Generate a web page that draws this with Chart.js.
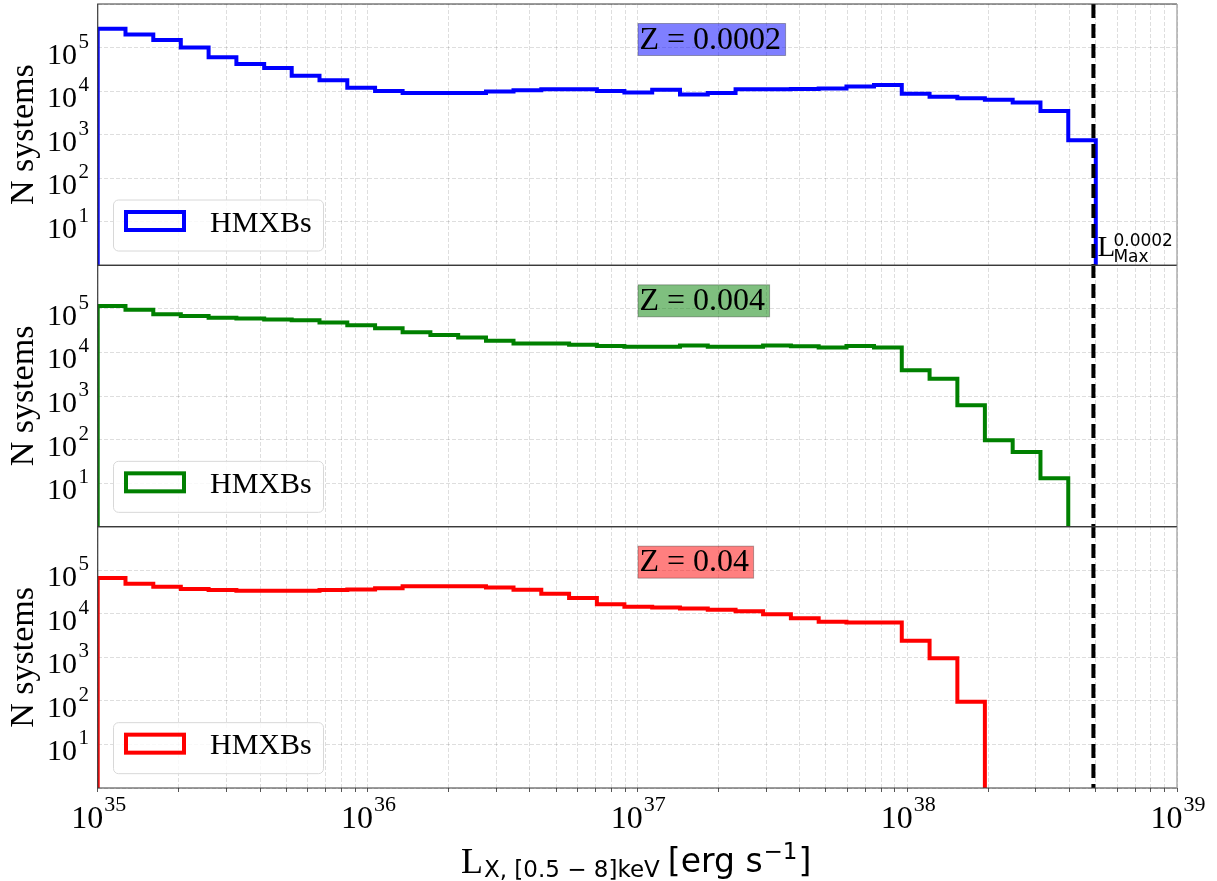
<!DOCTYPE html>
<html>
<head>
<meta charset="utf-8">
<script src="https://cdn.jsdelivr.net/npm/chart.js@4.4.1/dist/chart.umd.min.js"></script>
<style>
  html, body { margin: 0; padding: 0; background: #ffffff; }
  #wrap { width: 1217px; height: 881px; }
</style>
</head>
<body>
<div id="wrap"><canvas id="chart" width="1217" height="881"></canvas></div>
<script>
// Bin edges, log10(L_X) — 36 log-spaced bins from 1e35 to 5e38
const binEdgesLog = [
  35.000, 35.103, 35.206, 35.308, 35.411, 35.514, 35.617, 35.719, 35.822, 35.925,
  36.028, 36.130, 36.233, 36.336, 36.439, 36.541, 36.644, 36.747, 36.850, 36.952,
  37.055, 37.158, 37.261, 37.364, 37.466, 37.569, 37.672, 37.775, 37.877, 37.980,
  38.083, 38.186, 38.288, 38.391, 38.494, 38.597, 38.699,
];

// N systems per bin (0 = empty bin)
const nZ0002 = [
  2.7e5, 2.0e5, 1.5e5, 1.0e5, 6.0e4, 4.2e4, 3.4e4, 2.25e4, 1.77e4, 1.2e4,
  1.0e4, 9.1e3, 9.1e3, 9.1e3, 9.8e3, 1.05e4, 1.1e4, 1.1e4, 1.0e4, 9.3e3,
  1.07e4, 8.4e3, 9.1e3, 1.1e4, 1.1e4, 1.12e4, 1.15e4, 1.28e4, 1.38e4, 8.7e3,
  7.4e3, 6.9e3, 6.3e3, 5.5e3, 3.5e3, 740,
];
const nZ004 = [
  1.17e5, 9.5e4, 7.5e4, 6.9e4, 6.3e4, 6.0e4, 5.7e4, 5.5e4, 4.9e4, 4.2e4,
  3.6e4, 2.9e4, 2.5e4, 2.2e4, 1.85e4, 1.6e4, 1.6e4, 1.5e4, 1.4e4, 1.35e4,
  1.35e4, 1.45e4, 1.35e4, 1.35e4, 1.45e4, 1.38e4, 1.3e4, 1.4e4, 1.3e4, 3.9e3,
  2.5e3, 610, 96, 52, 13, 0,
];
const nZ04 = [
  6.6e4, 4.9e4, 4.2e4, 3.7e4, 3.5e4, 3.37e4, 3.37e4, 3.37e4, 3.5e4, 3.6e4,
  3.85e4, 4.3e4, 4.3e4, 4.3e4, 4.0e4, 3.55e4, 2.9e4, 2.3e4, 1.65e4, 1.45e4,
  1.4e4, 1.33e4, 1.24e4, 1.15e4, 9.7e3, 7.9e3, 6.6e3, 6.3e3, 6.3e3, 2.4e3,
  950, 95, 0, 0, 0, 0,
];

const panelLabels = ['Z = 0.0002', 'Z = 0.004', 'Z = 0.04'];
const legendLabel = 'HMXBs';
const xTickExponents = [35, 36, 37, 38, 39];
const yTickExponents = [1, 2, 3, 4, 5];
const lMaxValue = 4.9e38;    // L_Max for Z = 0.0002 (dashed line)
const lMaxLabel = '0.0002';

// Styles
const COLORS = ['#0000ff', '#008000', '#ff0000'];
const BOX_FILL = ['rgba(0,0,255,0.5)', 'rgba(0,128,0,0.5)', 'rgba(255,0,0,0.5)'];
const GRID = 'rgba(0,0,0,0.13)';
const SERIF = '"Liberation Serif", "Times New Roman", serif';
const SANS = '"DejaVu Sans", sans-serif';
const LOG_FLOOR = 1e-3;      // stand-in for log(0): below the axis, clipped away

// Histogram outline: up at first edge, step along bins, down at last edge
function toSteps(values) {
  const last = binEdgesLog.length - 1;
  const pts = [{ x: 10 ** binEdgesLog[0], y: LOG_FLOOR }];
  values.forEach((v, i) => pts.push({ x: 10 ** binEdgesLog[i], y: v > 0 ? v : LOG_FLOOR }));
  pts.push({ x: 10 ** binEdgesLog[last], y: LOG_FLOOR });
  return pts;
}

// Tick positions (1..9 x 10^n) for the x axis, decades only for y
const xTickValues = [];
xTickExponents.forEach((e, i) => {
  if (i === xTickExponents.length - 1) { xTickValues.push(10 ** e); return; }
  for (let m = 1; m < 10; m++) xTickValues.push(m * 10 ** e);
});
const yGridValues = [1, 10, 100, 1e3, 1e4, 1e5, 1e6];

function yScale() {
  return {
    type: 'logarithmic',
    position: 'left',
    stack: 'panels',
    stackWeight: 1,
    min: 1,
    max: 1e6,
    afterBuildTicks: (s) => { s.ticks = yGridValues.map((v) => ({ value: v })); },
    afterFit: (s) => { s.width = 97.7; },
    ticks: { display: false },
    grid: { color: GRID, lineWidth: 1, drawTicks: false },
    border: { display: false, dash: [4, 2] },
  };
}

// Draw "10" with a raised exponent
function powerLabel(ctx, x, y, exp, align, size, supSize, gap, rise) {
  ctx.fillStyle = '#000';
  ctx.textBaseline = 'alphabetic';
  ctx.textAlign = 'left';
  ctx.font = `${size}px ${SERIF}`;
  const w10 = ctx.measureText('10').width;
  ctx.font = `${supSize}px ${SERIF}`;
  const wSup = ctx.measureText(String(exp)).width;
  const left = align === 'right' ? x - wSup - gap - w10 : x - (w10 + gap + wSup) / 2;
  ctx.font = `${size}px ${SERIF}`;
  ctx.fillText('10', left, y);
  ctx.font = `${supSize}px ${SERIF}`;
  ctx.fillText(String(exp), left + w10 + gap, y - rise);
}

const decorPlugin = {
  id: 'decor',
  afterDatasetsDraw(chart) {
    const { ctx, chartArea, scales } = chart;
    const panels = [scales.yTop, scales.yMid, scales.yBot];

    // L_Max dashed line
    const xm = scales.x.getPixelForValue(lMaxValue);
    ctx.save();
    ctx.strokeStyle = '#000';
    ctx.lineWidth = 4;
    ctx.setLineDash([14, 6]);
    ctx.beginPath();
    ctx.moveTo(xm, chartArea.top);
    ctx.lineTo(xm, chartArea.bottom);
    ctx.stroke();
    ctx.restore();

    // panel frames
    ctx.save();
    ctx.lineWidth = 1.2;
    panels.forEach((s) => {
      ctx.strokeStyle = '#3a3a3a';
      ctx.beginPath();
      ctx.moveTo(chartArea.right, s.top);
      ctx.lineTo(chartArea.left, s.top);
      ctx.lineTo(chartArea.left, s.bottom);
      ctx.lineTo(chartArea.right, s.bottom);
      ctx.stroke();
      ctx.strokeStyle = '#9a9a9a';
      ctx.beginPath();
      ctx.moveTo(chartArea.right, s.top);
      ctx.lineTo(chartArea.right, s.bottom);
      ctx.stroke();
    });
    ctx.restore();

    panels.forEach((s, i) => {
      // y tick labels
      yTickExponents.forEach((e) => {
        const y = s.getPixelForValue(10 ** e);
        powerLabel(ctx, 89, y + 16, e, 'right', 30, 21, 1.5, 16);
      });

      // y axis title
      ctx.save();
      ctx.translate(33, (s.top + s.bottom) / 2);
      ctx.rotate(-Math.PI / 2);
      ctx.font = `34px ${SERIF}`;
      ctx.fillStyle = '#000';
      ctx.textAlign = 'center';
      ctx.textBaseline = 'alphabetic';
      ctx.fillText('N systems', 0, 0);
      ctx.restore();

      // legend
      ctx.save();
      const lx = 113, ly = s.top + 195.5, lw = 210, lh = 51;
      ctx.fillStyle = 'rgba(255,255,255,0.8)';
      ctx.strokeStyle = '#d8d8d8';
      ctx.lineWidth = 1;
      ctx.beginPath();
      ctx.roundRect(lx + 0.5, ly + 0.5, lw, lh, 5);
      ctx.fill();
      ctx.stroke();
      ctx.strokeStyle = COLORS[i];
      ctx.lineWidth = 4;
      ctx.lineJoin = 'miter';
      ctx.strokeRect(126, s.top + 208, 58, 18);
      ctx.fillStyle = '#000';
      ctx.font = `30px ${SERIF}`;
      ctx.textAlign = 'left';
      ctx.textBaseline = 'alphabetic';
      ctx.fillText(legendLabel, 210, s.top + 227.5);
      ctx.restore();

      // metallicity label
      ctx.save();
      ctx.font = `32px ${SERIF}`;
      const tw = ctx.measureText(panelLabels[i]).width;
      const bx = 638, by = s.top + 19.5, bh = 32;
      ctx.fillStyle = BOX_FILL[i];
      ctx.fillRect(bx, by, tw + 6, bh);
      ctx.strokeStyle = 'rgba(0,0,0,0.3)';
      ctx.lineWidth = 1;
      ctx.strokeRect(bx, by, tw + 6, bh);
      ctx.fillStyle = '#000';
      ctx.textAlign = 'left';
      ctx.textBaseline = 'alphabetic';
      ctx.fillText(panelLabels[i], bx + 1.5, s.top + 44.5);
      ctx.restore();
    });

    // L_Max annotation in top panel
    ctx.save();
    ctx.fillStyle = '#000';
    ctx.textAlign = 'left';
    ctx.textBaseline = 'alphabetic';
    ctx.font = `29px ${SERIF}`;
    ctx.fillText('L', xm + 4, scales.yTop.bottom - 9);
    ctx.font = `17px ${SANS}`;
    ctx.fillText(lMaxLabel, xm + 20, scales.yTop.bottom - 19);
    ctx.fillText('Max', xm + 20, scales.yTop.bottom - 3);
    ctx.restore();

    // x tick labels
    xTickExponents.forEach((e) => {
      const x = scales.x.getPixelForValue(10 ** e);
      powerLabel(ctx, x + 1, 828, e, 'center', 32, 22, 1, 17);
    });

    // x axis title: L_{X,[0.5-8]keV} [erg s^-1]
    ctx.save();
    ctx.fillStyle = '#000';
    ctx.textAlign = 'left';
    ctx.textBaseline = 'alphabetic';
    let cx = 461;
    ctx.font = `36px ${SERIF}`;
    ctx.fillText('L', cx, 873);
    cx += ctx.measureText('L').width + 1;
    ctx.font = `23px ${SANS}`;
    ctx.fillText('X, [0.5 \u2212 8]keV', cx, 877);
    cx += ctx.measureText('X, [0.5 \u2212 8]keV').width + 8;
    ctx.font = `33px ${SANS}`;
    ctx.fillText('[erg s', cx, 872);
    cx += ctx.measureText('[erg s').width + 1;
    ctx.font = `23px ${SANS}`;
    ctx.fillText('\u22121', cx, 859);
    cx += ctx.measureText('\u22121').width + 1;
    ctx.font = `33px ${SANS}`;
    ctx.fillText(']', cx, 872);
    ctx.restore();
  },
};

const series = [nZ0002, nZ004, nZ04];
const axisIds = ['yTop', 'yMid', 'yBot'];

new Chart(document.getElementById('chart'), {
  type: 'line',
  data: {
    datasets: series.map((vals, i) => ({
      label: legendLabel,
      data: toSteps(vals),
      xAxisID: 'x',
      yAxisID: axisIds[i],
      borderColor: COLORS[i],
      borderWidth: 4,
      stepped: 'before',
      pointRadius: 0,
      fill: false,
      clip: 0,
      borderJoinStyle: 'miter',
      borderCapStyle: 'butt',
    })),
  },
  options: {
    responsive: false,
    animation: false,
    devicePixelRatio: 1,
    layout: { padding: { top: 4, right: 40, left: 0, bottom: 0 } },
    scales: {
      x: {
        type: 'logarithmic',
        position: 'bottom',
        min: 10 ** xTickExponents[0],
        max: 10 ** xTickExponents[xTickExponents.length - 1],
        afterBuildTicks: (s) => { s.ticks = xTickValues.map((v) => ({ value: v })); },
        afterFit: (s) => { s.height = 93; },
        ticks: { display: false },
        grid: { color: GRID, lineWidth: 1, drawTicks: true, tickLength: 4, tickColor: '#555' },
        border: { display: false, dash: [4, 2] },
      },
      // stacked panels: last one listed ends up on top
      yBot: yScale(),
      yMid: yScale(),
      yTop: yScale(),
    },
    plugins: {
      legend: { display: false },
      tooltip: { enabled: false },
      title: { display: false },
    },
  },
  plugins: [decorPlugin],
});
</script>
</body>
</html>
